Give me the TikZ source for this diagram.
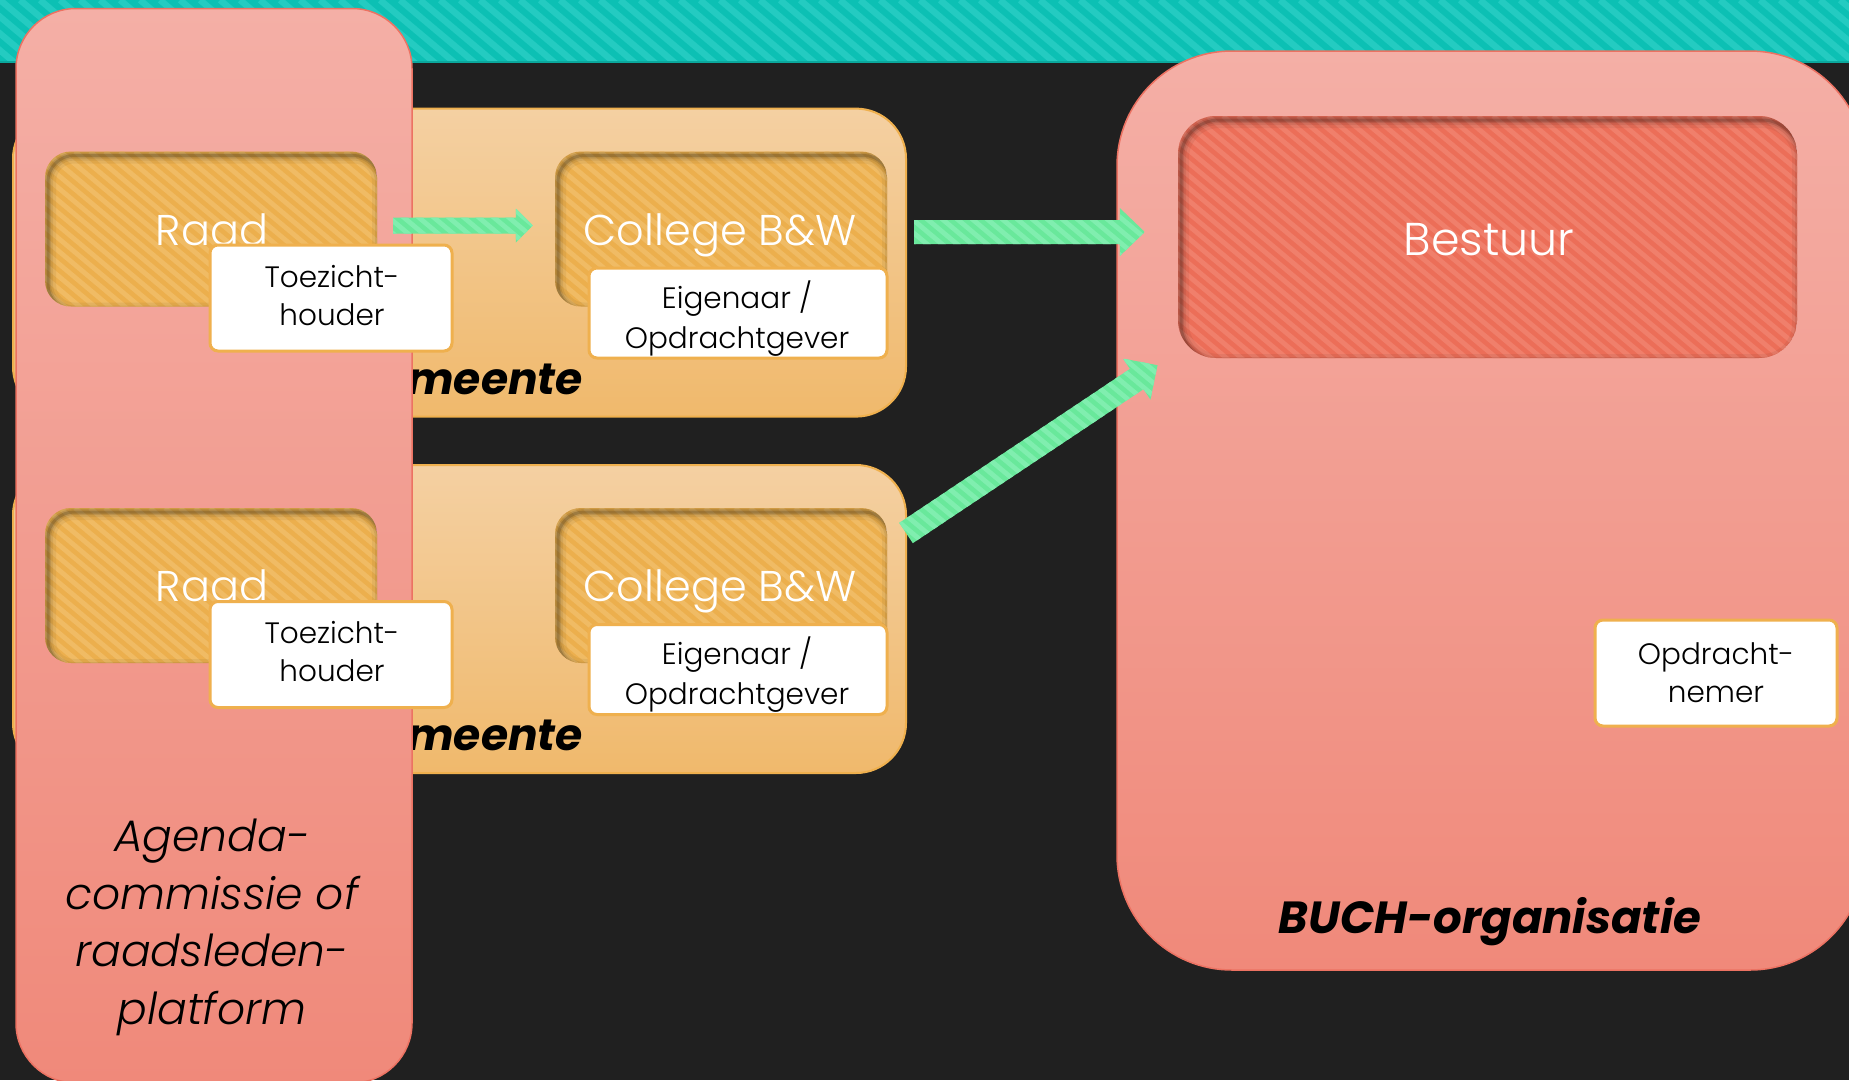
\documentclass[tikz,border=0pt]{standalone}
\usepackage{fontspec}
\setmainfont{Poppins}
\IfFontExistsTF{Poppins Light}{\newfontfamily\lightfont{Poppins Light}}{\newfontfamily\lightfont{Poppins}}
\IfFontExistsTF{Poppins Light Italic}{\newfontfamily\lightit{Poppins Light Italic}}{\newfontfamily\lightit{Poppins Italic}}
\usetikzlibrary{calc}
\definecolor{bg}{HTML}{202020}
\definecolor{teal1}{HTML}{0CC0B4}
\definecolor{teal2}{HTML}{24CBC1}
\definecolor{tealline}{HTML}{0BA89D}
\definecolor{pinktop}{HTML}{F4AFA6}
\definecolor{pinkbot}{HTML}{F0897A}
\definecolor{pinkline}{HTML}{EC7262}
\definecolor{gemtop}{HTML}{F4D0A2}
\definecolor{gembot}{HTML}{F0B96C}
\definecolor{gemline}{HTML}{EFB04E}
\definecolor{inner1}{HTML}{ECAF4D}
\definecolor{inner2}{HTML}{F0BB64}
\definecolor{best1}{HTML}{EC6E58}
\definecolor{best2}{HTML}{F07F6B}
\definecolor{green1}{HTML}{69E89B}
\definecolor{green2}{HTML}{80EEAF}
\newcommand\fsz[2]{\fontsize{#1}{#2}\selectfont}
\tikzset{
  stripefill/.style n args={4}{path picture={
    \fill[#1] (path picture bounding box.south west) rectangle (path picture bounding box.north east);
    \foreach \k in {-30,...,150}{\draw[#2, line width=#3] ([xshift=\k*#4]path picture bounding box.north west) -- ++(834,700);}
  }},
  innerbox/.style n args={3}{rounded corners=#3, inner sep=0pt,
    path picture={
      \fill[#1] (path picture bounding box.south west) rectangle (path picture bounding box.north east);
      \foreach \k in {-30,...,70}{\draw[#2, line width=4.8pt] ([xshift=\k*15pt]path picture bounding box.north west) -- ++(834,700);}
      \foreach \w/\o in {16/0.05,10/0.07,6/0.1,3/0.16}{\draw[black, opacity=\o, line width=\w pt, rounded corners=#3] ([shift={(3pt,-4pt)}]path picture bounding box.south west) rectangle ([shift={(3pt,-4pt)}]path picture bounding box.north east);}
  }},
  gembox/.style={draw=gemline, line width=2pt, top color=gemtop, bottom color=gembot, rounded corners=50pt, inner sep=0pt, minimum width=893pt, minimum height=308pt},
  pinkbox/.style={draw=pinkline, line width=1.5pt, top color=pinktop, bottom color=pinkbot, inner sep=0pt},
  wbox/.style={draw=gemline, line width=3pt, fill=white, rounded corners=8pt, inner sep=0pt},
  whitetxt/.style={text=white, inner sep=0pt, anchor=base},
  blacktxt/.style={text=black, inner sep=0pt, anchor=base, align=center},
}
\newcommand\blockarrow[5]{%
  \coordinate (ba-b) at ($(#2)!#5!(#1)$);
  \path[stripefill={green1}{green2}{4.8pt}{15pt}] ($(#1)!#3!90:(#2)$) -- ($(ba-b)!#3!90:(#2)$) -- ($(ba-b)!#4!90:(#2)$) -- (#2) -- ($(ba-b)!#4!-90:(#2)$) -- ($(ba-b)!#3!-90:(#2)$) -- ($(#1)!#3!-90:(#2)$) -- cycle;
}
\begin{document}
\begin{tikzpicture}[x=1pt,y=-1pt]
\useasboundingbox (0,0) rectangle (1849,1080);
\fill[bg] (0,0) rectangle (1849,1080);
% teal band
\path[stripefill={teal1}{teal2}{6.4pt}{20pt}] (0,0) rectangle (1849,62);
\draw[tealline, line width=1.2pt] (0,62) -- (1849,62);

% BUCH organisation
\node[pinkbox, rounded corners=115pt, minimum width=748pt, minimum height=919pt] (buch) at (1491,510.5) {};

% Gemeente boxes
\node[gembox] (gem1) at (459.5,262.6) {};
\node[gembox] (gem2) at (459.5,619) {};
\node[anchor=base east, inner sep=0pt, font=\fsz{44}{50}\bfseries\itshape] (gemt1) at (583,394) {Gemeente};
\node[anchor=base east, inner sep=0pt, font=\fsz{44}{50}\bfseries\itshape] (gemt2) at (583,750.5) {Gemeente};

% Agenda commission
\node[pinkbox, rounded corners=60pt, minimum width=396pt, minimum height=1074.5pt] (agenda) at (214,545.75) {};
\node[blacktxt, font=\fsz{44}{57.5}\lightit] (agendat) at (212,1024) {Agenda-\\commissie of\\raadsleden-\\platform};

% Raad / College boxes
\node[innerbox={inner1}{inner2}{26pt}, minimum width=332pt, minimum height=155pt] (raad1) at (211,229) {};
\node[innerbox={inner1}{inner2}{26pt}, minimum width=332pt, minimum height=155pt] (coll1) at (721,229) {};
\node[innerbox={inner1}{inner2}{26pt}, minimum width=332pt, minimum height=155pt] (raad2) at (211,585.5) {};
\node[innerbox={inner1}{inner2}{26pt}, minimum width=332pt, minimum height=155pt] (coll2) at (721,585.5) {};
\node[whitetxt, font=\fsz{43}{50}\lightfont] (raadt1) at (212,245) {Raad};
\node[whitetxt, font=\fsz{43}{50}\lightfont] (collt1) at (720,245) {College B\&W};
\node[whitetxt, font=\fsz{43}{50}\lightfont] (raadt2) at (212,601.5) {Raad};
\node[whitetxt, font=\fsz{43}{50}\lightfont] (collt2) at (720,601.5) {College B\&W};

% role boxes
\node[wbox, minimum width=242pt, minimum height=106pt] (toez1) at (331,298) {};
\node[wbox, minimum width=298pt, minimum height=90pt] (eig1) at (738,313) {};
\node[wbox, minimum width=242pt, minimum height=106pt] (toez2) at (331,654.5) {};
\node[wbox, minimum width=298pt, minimum height=90pt] (eig2) at (738,669.5) {};
\node[blacktxt, font=\fsz{29.5}{38}\lightfont] (toezt1) at (332,325.4) {Toezicht-\\houder};
\node[blacktxt, font=\fsz{29.5}{40}\lightfont] (eigt1) at (737,348) {Eigenaar /\\Opdrachtgever};
\node[blacktxt, font=\fsz{29.5}{38}\lightfont] (toezt2) at (332,681.9) {Toezicht-\\houder};
\node[blacktxt, font=\fsz{29.5}{40}\lightfont] (eigt2) at (737,704.5) {Eigenaar /\\Opdrachtgever};

% Bestuur
\node[innerbox={best1}{best2}{38pt}, minimum width=619pt, minimum height=242pt] (best) at (1487.5,237) {};
\node[whitetxt, font=\fsz{46}{52}\lightfont] (bestt) at (1489,255) {Bestuur};

% Opdrachtnemer
\node[wbox, minimum width=242pt, minimum height=106pt] (opn) at (1716,673) {};
\node[blacktxt, font=\fsz{29.5}{38}\lightfont] (opnt) at (1716,702) {Opdracht-\\nemer};

\node[anchor=base, inner sep=0pt, font=\fsz{45}{52}\bfseries\itshape] (bucht) at (1490,933) {BUCH-organisatie};

% arrows
\coordinate (a1s) at ($(raad1.east)+(16,-3.5)$);
\coordinate (a1e) at ($(coll1.west)+(-22,-3.5)$);
\blockarrow{a1s}{a1e}{8pt}{17pt}{17pt}
\coordinate (a2s) at ($(gem1.east)+(7,-30.6)$);
\coordinate (a2e) at ($(best.west)+(-33,-5)$);
\blockarrow{a2s}{a2e}{12pt}{24pt}{25pt}
\coordinate (a3s) at ($(gem2.east)+(-1,-86)$);
\coordinate (a3e) at ($(best.south west)+(-20.3,7)$);
\blockarrow{a3s}{a3e}{12.2pt}{24.7pt}{25pt}
\end{tikzpicture}
\end{document}
